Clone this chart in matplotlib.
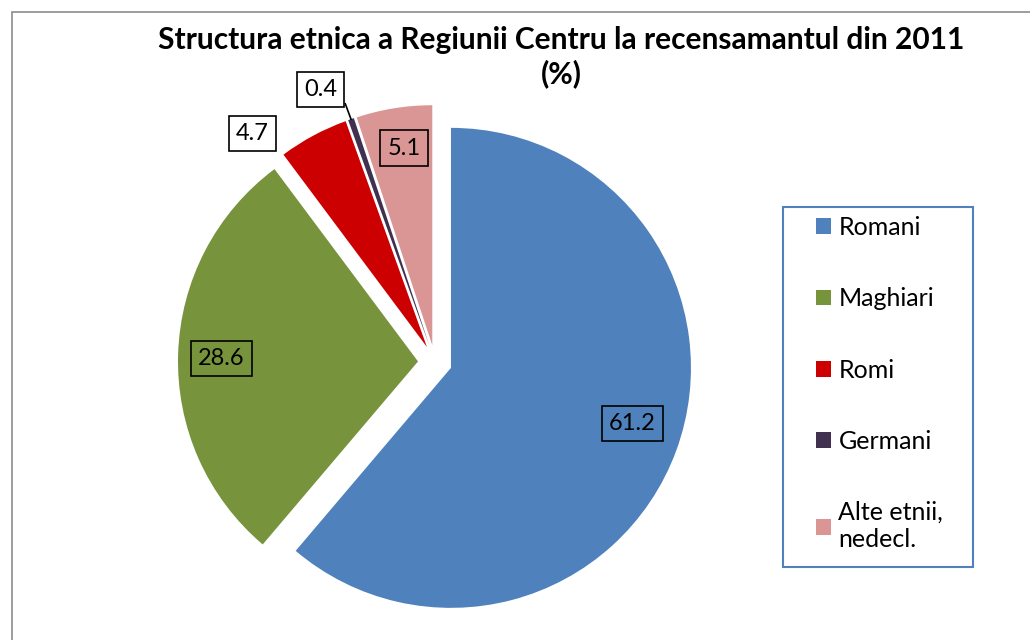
import numpy as np
import matplotlib.pyplot as plt
from matplotlib.patches import Rectangle

plt.rcParams['font.family'] = ['Lato', 'DejaVu Sans']

categories = ["Romani", "Maghiari", "Romi", "Germani", "Alte etnii,\nnedecl."]
values = [61.2, 28.6, 4.7, 0.4, 5.1]
value_labels = ["61.2", "28.6", "4.7", "0.4", "5.1"]
colors = ["#4F81BD", "#77933C", "#CC0000", "#403151", "#D99694"]

# label placement: (distance as fraction of radius, angle offset in degrees)
label_pos = [(0.79, 3), (0.82, 1), (1.15, 11), (1.16, 4), (0.83, -1)]

fig = plt.figure(figsize=(10.3, 6.4), dpi=100)
ax = fig.add_axes([0, 0, 1, 1])

# outer chart border (cut off at right/bottom like the screenshot)
fig.patches.append(Rectangle((12 / 1030, -0.1), 1.2, (640 - 12) / 640 + 0.1,
                             transform=fig.transFigure, fill=False,
                             edgecolor="#8C8C8C", linewidth=1.2))

R = 240
wedges, _ = ax.pie(values, radius=R, center=(435, 278), startangle=90,
                   counterclock=False, colors=colors,
                   explode=[17] * len(values),
                   wedgeprops=dict(linewidth=0), frame=True)
ax.set_xlim(0, 1030)
ax.set_ylim(0, 640)
ax.set_aspect("equal")
ax.axis("off")

for w, txt, (dist, off) in zip(wedges, value_labels, label_pos):
    mid = np.deg2rad((w.theta1 + w.theta2) / 2 + off)
    cx, cy = w.center
    tx = cx + dist * R * np.cos(mid)
    ty = cy + dist * R * np.sin(mid)
    ax.text(tx, ty, txt, ha="center", va="center", fontsize=17,
            bbox=dict(boxstyle="square,pad=0.3", facecolor="none",
                      edgecolor="black", linewidth=1.2))
    if dist > 1 and txt == "0.4":
        m = np.deg2rad((w.theta1 + w.theta2) / 2)
        ex = cx + R * np.cos(m)
        ey = cy + R * np.sin(m)
        ax.plot([tx + 25, ex], [ty - 14, ey], color="black", linewidth=1.2)

# title as two lines so the short second line keeps a narrow box
fig.text(0.545, 1 - 40 / 640, "Structura etnica a Regiunii Centru la recensamantul din 2011",
         ha="center", va="center", fontsize=21.5, fontweight="bold")
fig.text(0.545, 1 - 74 / 640, "(%)",
         ha="center", va="center", fontsize=21.5, fontweight="bold")

# legend frame drawn separately so its padding matches the original
ax.add_patch(Rectangle((783, 640 - 567), 190, 360, fill=False,
                       edgecolor="#4F81BD", linewidth=1.5))
leg = ax.legend(wedges, categories, loc="upper left",
                bbox_to_anchor=(816 / 1030, 1 - 216 / 640), bbox_transform=fig.transFigure,
                fontsize=18, frameon=False,
                labelspacing=1.93, handlelength=0.6, handleheight=0.6,
                handletextpad=0.3, borderpad=0, borderaxespad=0)

fig.savefig("out.png", dpi=100)
